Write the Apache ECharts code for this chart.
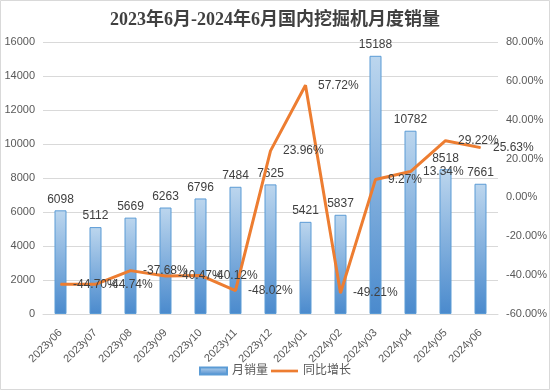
<!DOCTYPE html>
<html>
<head>
<meta charset="utf-8">
<script src="https://cdn.jsdelivr.net/npm/echarts@6/dist/echarts.min.js"></script>
<style>html,body{margin:0;padding:0;background:#fff;}#main{width:550px;height:390px;}</style>
</head>
<body>
<div id="main"></div>
<script>
const categories = ['2023y06','2023y07','2023y08','2023y09','2023y10','2023y11','2023y12','2024y01','2024y02','2024y03','2024y04','2024y05','2024y06'];
const monthlySales = [6098, 5112, 5669, 6263, 6796, 7484, 7625, 5421, 5837, 15188, 10782, 8518, 7661];
const yoyGrowth = [-44.70, -44.74, -37.68, -40.47, -40.12, -48.02, 23.96, 57.72, -49.21, 9.27, 13.34, 29.22, 25.63];
const titleText = '2023年6月-2024年6月国内挖掘机月度销量';
const seriesNames = ['月销量', '同比增长'];

const chart = echarts.init(document.getElementById('main'), null, {renderer: 'canvas'});
const barGrad = new echarts.graphic.LinearGradient(0, 0, 0, 1, [
  {offset: 0, color: '#bcd6ee'},
  {offset: 1, color: '#4a8acd'}
]);
const font = "'Liberation Sans', 'Noto Sans CJK SC', sans-serif";
chart.setOption({
  backgroundColor: '#ffffff',
  animation: false,
  title: {
    text: titleText,
    left: 'center',
    top: 6,
    textStyle: {fontSize: 18, fontWeight: 'bold', color: '#404040', fontFamily: "'Liberation Serif', 'Noto Sans CJK SC', serif"}
  },
  graphic: [{
    type: 'rect', silent: true,
    shape: {x: 0.5, y: 0.5, width: 549, height: 389},
    style: {fill: 'none', stroke: '#d9d9d9', lineWidth: 1}
  }],
  legend: {
    bottom: 8,
    left: 'center',
    itemGap: 3,
    itemWidth: 27,
    itemHeight: 7,
    textStyle: {color: '#595959', fontSize: 12, fontFamily: font},
    data: [
      {name: seriesNames[0], icon: 'rect'},
      {name: seriesNames[1], icon: 'path://M0 0h30v3h-30z', itemStyle: {color: '#ed7d31'}}
    ]
  },
  grid: {left: 43, right: 52, top: 42, bottom: 76, containLabel: false},
  xAxis: {
    type: 'category',
    data: categories,
    axisLine: {show: true, lineStyle: {color: '#d9d9d9'}},
    axisTick: {show: false},
    axisLabel: {rotate: 45, color: '#595959', fontSize: 11, margin: 17, interval: 0, fontFamily: font}
  },
  yAxis: [{
    type: 'value', min: 0, max: 16000, interval: 2000,
    axisLine: {show: false}, axisTick: {show: false},
    splitLine: {lineStyle: {color: '#d9d9d9'}},
    axisLabel: {color: '#595959', fontSize: 11, margin: 8, fontFamily: font, formatter: v => String(v)}
  }, {
    type: 'value', min: -60, max: 80, interval: 20,
    axisLine: {show: false}, axisTick: {show: false},
    splitLine: {show: false},
    axisLabel: {color: '#595959', fontSize: 11, margin: 8, fontFamily: font, formatter: v => v.toFixed(2) + '%'}
  }],
  series: [{
    name: seriesNames[0],
    type: 'bar',
    data: monthlySales,
    barWidth: 12,
    itemStyle: {color: barGrad, borderColor: '#5b9bd5', borderWidth: 1},
    label: {show: true, position: 'top', distance: 5, color: '#404040', fontSize: 12, fontFamily: font}
  }, {
    name: seriesNames[1],
    type: 'line',
    yAxisIndex: 1,
    data: yoyGrowth,
    symbol: 'circle',
    symbolSize: 1,
    showSymbol: true,
    lineStyle: {color: '#ed7d31', width: 3},
    itemStyle: {color: '#ed7d31'},
    label: {show: true, position: 'right', distance: 12, color: '#404040', fontSize: 12, fontFamily: font, formatter: p => p.value.toFixed(2) + '%'}
  }]
});
</script>
</body>
</html>
